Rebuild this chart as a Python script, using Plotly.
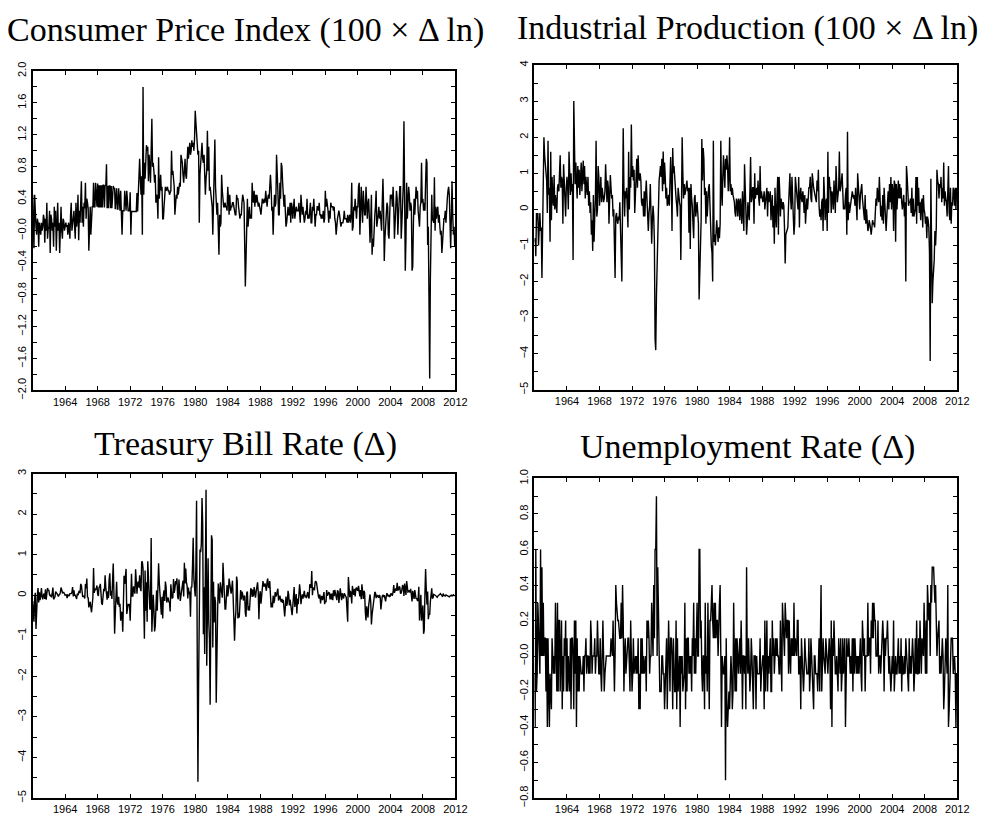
import pandas as pd
import plotly.graph_objects as go

# ---------------- data (monthly, 1960:01 - 2011:12) ----------------
cpi_change = [
 0.45, 0.12, -0.22, 0.45, 0.08, 0.05, -0.05, 0.15, 0.10, -0.20, 0.10, 0.05,
 -0.05, 0.10, 0.00, 0.05, 0.20, 0.15, -0.15, 0.15, 0.00, 0.35, -0.10, 0.02,
 0.05, 0.25, -0.28, 0.20, 0.15, 0.00, 0.10, -0.20, 0.30, 0.05, 0.25, -0.25,
 0.10, 0.35, 0.00, 0.10, -0.28, 0.25, 0.30, 0.00, -0.10, 0.15, 0.12, 0.00,
 0.05, 0.10, 0.05, 0.07, -0.05, 0.10, 0.05, -0.10, 0.20, 0.35, 0.00, 0.10,
 0.15, 0.25, 0.05, -0.10, 0.35, 0.05, 0.15, 0.45, -0.12, 0.25, 0.10, 0.30,
 0.62, 0.10, 0.30, 0.05, 0.35, 0.28, 0.60, 0.15, 0.40, 0.35, 0.28, -0.25,
 0.00, 0.30, -0.05, 0.30, 0.30, 0.30, 0.60, 0.30, 0.30, 0.60, 0.30, 0.30,
 0.59, 0.29, 0.57, 0.29, 0.57, 0.29, 0.57, 0.29, 0.57, 0.57, 0.29, 0.57,
 0.56, 0.83, 0.28, 0.56, 0.28, 0.56, 0.56, 0.28, 0.56, 0.28, 0.56, 0.56,
 0.53, 0.53, 0.27, 0.53, 0.53, 0.27, 0.27, 0.53, 0.27, 0.25, 0.50, 0.25,
 -0.05, 0.25, 0.25, 0.25, 0.50, 0.25, 0.25, 0.50, 0.25, 0.25, 0.25, 0.25,
 0.48, -0.05, 0.24, 0.24, 0.24, 0.24, 0.24, 0.24, 0.24, 0.24, 0.47, 0.24,
 0.47, 0.70, 0.90, 0.65, 0.45, 0.68, -0.05, 1.80, 0.45, 0.85, 0.65, 0.85,
 1.07, 1.00, 1.05, 0.62, 0.95, 0.80, 0.60, 1.00, 1.40, 0.80, 0.85, 0.75,
 0.60, 0.70, 0.35, 0.45, 0.40, 0.15, 0.92, 0.40, 0.50, 0.70, 0.50, 0.55,
 0.15, 0.15, 0.30, 0.45, 0.55, 0.50, 0.55, 0.55, 0.50, 0.50, 0.45, 0.50,
 0.50, 1.00, 0.70, 0.75, 0.60, 0.55, 0.20, 0.45, 0.45, 0.40, 0.55, 0.45,
 0.55, 0.60, 0.55, 0.95, 0.90, 0.85, 0.70, 0.60, 0.75, 0.90, 0.70, 0.65,
 0.85, 1.05, 0.90, 1.00, 1.10, 0.95, 1.00, 1.13, 1.05, 1.10, 1.00, 1.15,
 1.50, 1.35, 1.20, 1.00, 0.95, 1.00, 0.10, 0.70, 0.85, 1.00, 1.10, 0.90,
 0.85, 0.95, 0.60, 0.45, 0.65, 0.75, 1.25, 0.75, 1.05, 0.50, 0.55, 0.45,
 0.35, 0.30, -0.05, 0.30, 0.80, 1.14, 0.55, 0.25, 0.20, 0.35, 0.05, -0.30,
 0.20, 0.05, 0.10, 0.70, 0.50, 0.30, 0.30, 0.30, 0.35, 0.30, 0.30, 0.25,
 0.55, 0.40, 0.20, 0.45, 0.25, 0.30, 0.30, 0.35, 0.35, 0.30, 0.20, 0.20,
 0.20, 0.45, 0.40, 0.40, 0.30, 0.20, 0.15, 0.20, 0.20, 0.35, 0.45, 0.40,
 0.35, -0.20, -0.70, -0.35, 0.25, 0.40, 0.05, 0.20, 0.30, 0.15, 0.20, 0.15,
 0.60, 0.40, 0.35, 0.50, 0.30, 0.45, 0.35, 0.45, 0.40, 0.30, 0.35, 0.25,
 0.25, 0.20, 0.40, 0.40, 0.35, 0.35, 0.40, 0.35, 0.50, 0.35, 0.30, 0.40,
 0.45, 0.40, 0.50, 0.70, 0.55, 0.25, 0.30, -0.05, 0.25, 0.45, 0.30, 0.35,
 0.95, 0.50, 0.50, 0.20, 0.20, 0.60, 0.40, 0.85, 0.80, 0.60, 0.35, 0.30,
 0.45, 0.15, 0.05, 0.10, 0.30, 0.30, 0.20, 0.20, 0.35, 0.10, 0.35, 0.30,
 0.15, 0.35, 0.40, 0.15, 0.20, 0.30, 0.25, 0.25, 0.25, 0.35, 0.25, 0.10,
 0.45, 0.35, 0.20, 0.30, 0.15, 0.10, 0.15, 0.25, 0.20, 0.40, 0.15, 0.20,
 0.15, 0.30, 0.35, 0.10, 0.10, 0.30, 0.25, 0.40, 0.25, 0.05, 0.20, 0.20,
 0.30, 0.30, 0.25, 0.35, 0.20, 0.20, 0.15, 0.20, 0.15, 0.25, 0.10, 0.15,
 0.50, 0.30, 0.40, 0.35, 0.25, 0.10, 0.25, 0.15, 0.35, 0.30, 0.30, 0.30,
 0.25, 0.30, 0.15, 0.10, -0.05, 0.10, 0.15, 0.20, 0.25, 0.20, 0.05, 0.05,
 0.10, 0.10, 0.10, 0.15, 0.25, 0.15, 0.15, 0.15, 0.10, 0.20, 0.10, 0.15,
 0.20, 0.10, 0.20, 0.60, 0.00, 0.05, 0.30, 0.25, 0.40, 0.20, 0.15, 0.30,
 0.30, 0.55, 0.60, -0.05, 0.15, 0.55, 0.30, 0.10, 0.50, 0.20, 0.20, 0.20,
 0.55, 0.35, 0.15, 0.35, 0.40, 0.15, -0.15, 0.10, 0.45, -0.30, -0.10, -0.20,
 0.15, 0.20, 0.30, 0.50, 0.05, 0.10, 0.20, 0.30, 0.15, 0.25, 0.15, 0.00,
 0.35, 0.65, 0.30, -0.38, -0.10, 0.15, 0.20, 0.35, 0.30, -0.05, -0.10, 0.20,
 0.45, 0.40, 0.45, 0.30, 0.55, 0.30, -0.10, 0.10, 0.25, 0.50, 0.40, -0.05,
 0.20, 0.50, 0.55, 0.55, -0.10, 0.10, 0.45, 0.55, 1.37, 0.10, -0.50, -0.10,
 0.60, 0.15, 0.35, 0.55, 0.45, 0.25, 0.35, 0.30, -0.50, -0.45, 0.10, 0.40,
 0.20, 0.35, 0.55, 0.40, 0.50, 0.25, 0.15, 0.05, 0.30, 0.35, 0.85, 0.35,
 0.40, 0.25, 0.35, 0.25, 0.60, 0.90, 0.85, -0.18, 0.05, -1.00, -1.85, -0.60,
 0.30, 0.45, 0.15, 0.10, 0.10, 0.67, 0.00, 0.30, 0.15, 0.25, 0.30, 0.10,
 0.20, 0.05, -0.05, 0.00, -0.28, -0.15, 0.15, 0.15, 0.15, 0.25, 0.10, 0.35,
 0.40, 0.50, 0.55, 0.45, 0.20, -0.22, 0.15, 0.62, 0.20, -0.05, 0.05, -0.20,
]

ip_growth = [
 -0.9, -0.8, -1.3, -0.1, -0.3, -0.1, -1.0, -0.2, -0.1, -0.6, -0.5, -1.9,
 0.0, 0.3, 2.0, 1.5, 1.2, 1.0, 0.8, -0.1, 1.9, 0.4, 0.6, -0.9,
 1.6, -0.3, 0.9, 0.3, 0.1, 0.95, 0.0, 0.4, 0.2, -0.1, 0.6, 0.7,
 0.5, 0.9, 1.5, 0.6, 0.9, 0.8, -0.4, 1.25, 0.6, 0.0, -0.2, 0.6,
 0.9, 0.6, 0.0, 1.6, 0.6, 0.4, 1.0, 0.5, 0.7, -1.4, 3.0, 0.8,
 0.7, 1.3, 0.8, 0.3, 1.2, 0.6, 1.1, 0.4, 0.9, 1.3, 0.5, 1.0,
 1.35, 0.7, 1.2, 0.3, 0.9, 0.6, 0.4, 0.9, 0.1, 0.5, -0.1, 0.2,
 -0.7, -0.3, -1.15, 0.4, -0.9, -0.2, 0.3, 1.9, -0.2, 0.0, 1.2, 0.9,
 0.1, 0.5, 0.9, 0.2, 0.6, 0.4, 0.2, 0.3, 0.5, 1.25, 0.3, 0.2,
 0.8, 0.6, -0.4, 0.2, 0.95, 0.6, 0.3, 0.4, -0.2, 0.0, -0.9, -1.9,
 -0.2, -0.1, -0.3, -0.4, -0.2, -0.3, 0.2, -0.6, -0.8, -2.0, 0.1, 2.25,
 0.6, -0.2, 0.5, 0.3, 0.6, 0.2, -0.5, 1.6, 0.0, 0.9, 0.6, 2.35,
 0.9, 1.2, 0.8, 1.1, -0.1, 0.4, 1.3, 1.4, 0.6, 1.5, 0.9, 0.8,
 1.0, 0.8, 0.2, 0.1, 0.3, -0.2, 0.5, -0.2, 0.4, 0.8, 0.3, -0.3,
 -0.6, -0.1, 0.1, 0.7, 0.0, -0.95, -0.3, 0.1, -0.2, -0.9, -3.6, -3.9,
 -2.4, -1.4, -0.6, 0.1, 0.8, 1.0, 1.2, 0.9, 1.4, 0.5, 1.6, 0.7,
 1.3, 0.9, 0.3, 0.6, 0.1, 0.2, 0.4, 0.1, 0.6, 1.45, 0.8, -0.6,
 1.7, 1.0, 1.2, 0.8, 0.6, 0.3, 0.1, -0.2, 0.6, 0.3, 0.2, 0.1,
 -1.4, 0.2, 2.0, 1.0, 0.3, 0.7, 0.4, 0.5, 0.6, 0.8, 0.5, 0.6,
 -0.65, 0.6, -1.1, 0.7, 0.3, 0.1, -0.4, -0.8, 0.3, 0.4, -0.2, 0.1,
 0.2, -0.1, -0.4, -2.5, -1.9, -0.8, -0.3, 1.95, 0.8, 1.7, 1.4, 0.4,
 0.6, -0.4, 0.5, -0.2, 0.5, 0.6, 0.7, -0.1, -0.8, -1.0, -1.2, -2.0,
 1.9, -0.9, -0.7, -1.0, -0.5, -0.3, -0.6, -0.9, -0.5, -0.8, -0.4, 1.9,
 0.5, 0.1, 0.9, 1.5, 1.0, 0.6, 1.4, 1.1, 1.5, 1.2, 0.5, 0.9,
 2.0, 0.5, 0.7, 0.4, 0.6, 0.4, 0.3, 0.2, -0.1, -0.2, 0.3, 0.2,
 -0.2, 0.3, 0.2, -0.3, 0.3, -0.1, -0.4, 0.5, 0.1, -0.6, 1.25, 0.5,
 0.1, -0.7, -0.4, 0.2, -0.1, -0.3, 0.5, 1.45, 0.2, 0.3, 0.6, 0.6,
 -0.4, 1.0, 0.3, 0.5, 0.6, 0.4, 0.8, 0.3, 0.1, 1.2, 0.3, 0.5,
 0.3, 0.2, 0.3, 0.5, 0.0, 0.3, 0.4, 0.6, -0.2, 0.5, 0.2, 0.3,
 0.5, -0.3, 0.3, 0.4, -0.5, 0.1, -0.95, 0.6, -0.2, -0.5, 0.4, 0.9,
 -0.7, 0.9, 0.5, -0.2, 0.3, 0.2, 0.0, 0.2, 0.1, -0.5, -1.5, -0.7,
 -0.6, -0.6, -0.5, 0.1, 0.6, 1.0, 0.3, 0.0, 0.9, -0.2, -0.2, -0.7,
 -0.4, 0.9, 0.6, 0.6, 0.2, 0.0, 0.9, -0.5, 0.4, 0.6, 0.3, 0.2,
 0.5, 0.3, -0.1, 0.4, -0.4, 0.2, 0.3, 0.0, 0.6, 0.6, 0.6, 0.9,
 0.3, 0.2, 1.0, 0.6, 0.6, 0.5, 0.3, 0.3, 0.2, 0.8, 0.5, 1.1,
 0.1, -0.2, 0.0, -0.3, 0.2, 0.3, -0.6, 0.9, 0.4, -0.3, 0.2, 0.3,
 -0.6, 1.6, -0.1, 0.9, 0.6, 0.6, -0.1, 0.5, 0.4, 0.0, 0.8, 0.5,
 -0.1, 1.2, 0.6, 0.2, 0.4, 0.6, 1.6, 0.5, 0.6, 0.8, 1.0, 0.5,
 0.0, 0.1, 0.0, 0.4, 0.6, -0.7, 2.15, -0.3, 0.2, -0.1, 0.1, 0.3,
 0.3, 0.5, 0.4, 0.3, 0.4, 0.1, 0.6, 0.3, -0.3, 1.0, 0.5, 0.5,
 0.0, 0.4, 0.5, 0.7, 0.3, 0.1, -0.2, -0.3, 0.4, -0.4, 0.0, -0.3,
 -0.6, -0.5, -0.3, -0.4, -0.6, -0.7, -0.5, -0.3, -0.4, -0.4, -0.5, -0.2,
 0.3, 0.1, 0.6, 0.4, 0.2, 0.9, 0.0, -0.2, 0.1, -0.3, 0.4, -0.4,
 0.6, 0.1, -0.4, -0.6, -0.2, 0.1, 0.5, 0.0, 0.7, 0.2, 0.9, 0.0,
 0.7, 0.5, -0.6, 0.8, 0.7, -0.9, 0.7, 0.0, 0.3, 0.8, 0.3, 0.7,
 0.3, 0.6, 0.2, 0.0, 0.2, 0.4, -0.2, 0.2, -2.0, 1.2, 0.9, 0.4,
 0.1, 0.2, 0.2, 0.3, -0.1, 0.6, -0.2, 0.3, -0.2, -0.1, 0.0, 0.9,
 -0.4, 0.9, 0.1, 0.6, -0.1, 0.2, -0.3, 0.2, 0.3, -0.5, 0.4, 0.0,
 -0.1, -0.4, -0.2, -0.8, -0.2, -0.3, -0.5, -1.2, -4.2, 0.85, -1.2, -2.6,
 -2.0, -1.7, -1.4, -0.6, -1.0, -0.5, 1.1, 0.8, 0.7, 0.3, 0.7, 0.6,
 0.9, 0.2, 0.6, 0.3, 1.3, 0.1, 0.5, 0.3, 0.2, -0.2, 0.3, 1.2,
 -0.1, -0.3, 0.6, -0.4, 0.2, 0.1, 0.6, 0.5, 0.1, 0.6, 0.0, 0.6,
]

tbill_change = [
 -0.14, -0.39, -0.65, -0.08, 0.06, -0.83, -0.16, 0.00, 0.18, -0.18, 0.07, -0.12,
 -0.01, 0.18, -0.03, -0.10, 0.00, 0.04, -0.09, 0.15, -0.11, 0.02, 0.18, 0.12,
 0.12, 0.01, -0.01, 0.01, -0.05, 0.05, 0.19, -0.10, -0.04, -0.04, 0.09, 0.04,
 0.04, 0.01, -0.03, 0.01, 0.02, 0.07, 0.19, 0.14, 0.06, 0.07, 0.07, 0.00,
 0.00, 0.01, 0.01, -0.07, 0.01, 0.00, -0.02, 0.04, 0.03, 0.04, 0.07, 0.20,
 -0.03, 0.12, 0.00, 0.00, -0.04, -0.09, 0.04, 0.00, 0.08, 0.11, 0.05, 0.28,
 0.24, 0.07, -0.04, -0.02, -0.03, -0.08, 0.28, 0.17, 0.41, -0.04, -0.06, -0.30,
 -0.24, -0.16, -0.30, -0.42, -0.24, -0.06, 0.67, 0.06, 0.15, 0.14, 0.17, 0.24,
 0.03, -0.02, 0.19, 0.21, 0.28, -0.14, -0.21, -0.22, 0.10, 0.16, 0.10, 0.49,
 0.19, -0.01, -0.11, 0.10, -0.07, 0.40, 0.54, -0.01, 0.11, -0.09, 0.25, 0.78,
 0.05, -0.95, -0.50, -0.12, 0.33, -0.16, -0.23, -0.04, -0.29, -0.21, -0.63, -0.41,
 -0.43, -0.90, -0.32, 0.48, 0.28, 0.61, 0.65, -0.46, -0.25, -0.23, -0.24, -0.21,
 -0.63, -0.18, 0.53, -0.02, -0.02, 0.22, 0.07, 0.04, 0.64, 0.08, 0.04, 0.29,
 0.34, 0.19, 0.49, 0.17, 0.10, 0.83, 0.82, 0.66, -0.38, -1.07, 0.61, -0.38,
 0.32, -0.65, 0.84, 0.37, -0.10, -0.33, -0.35, 1.41, -0.90, -0.60, 0.01, -0.32,
 -0.89, -0.76, -0.01, 0.12, -0.38, 0.11, 0.79, 0.31, -0.02, -0.46, -0.48, -0.04,
 -0.57, 0.01, 0.12, -0.14, 0.34, 0.21, -0.18, -0.09, -0.06, -0.16, -0.17, -0.40,
 0.27, 0.05, -0.07, -0.06, 0.40, 0.06, 0.15, 0.35, 0.27, 0.42, -0.03, -0.10,
 0.39, 0.01, -0.14, -0.01, 0.12, 0.28, 0.36, -0.03, 0.80, 0.29, 0.66, 0.33,
 0.23, -0.08, 0.19, 0.03, 0.09, -0.53, 0.21, 0.19, 0.73, 1.42, 0.40, 0.20,
 -0.03, 0.77, 2.33, -1.53, -4.60, -2.15, 1.13, 1.13, 1.06, 1.26, 2.40, 1.77,
 -0.96, 0.20, -1.45, 0.15, 2.60, -1.74, 0.14, 0.91, -0.66, -1.08, -2.70, -0.34,
 1.48, 1.37, -1.29, 0.33, -0.67, -0.04, -0.20, -2.65, -0.81, -0.45, 0.29, -0.03,
 -0.20, 0.32, 0.17, -0.05, -0.06, 0.80, 0.30, 0.27, -0.34, -0.34, 0.00, 0.25,
 -0.03, 0.10, 0.41, 0.25, 0.21, 0.04, 0.19, 0.36, -0.08, -0.44, -1.12, -0.63,
 -0.40, 0.46, 0.35, -0.57, -0.44, -0.55, 0.04, 0.13, -0.10, 0.09, 0.03, -0.13,
 -0.03, -0.01, -0.44, -0.53, 0.06, 0.09, -0.37, -0.27, -0.38, -0.01, 0.17, 0.14,
 -0.04, 0.14, -0.03, 0.20, -0.01, -0.06, 0.09, 0.22, 0.32, 0.08, -0.59, -0.01,
 0.10, -0.21, 0.00, 0.23, 0.35, 0.23, 0.23, 0.29, 0.21, 0.11, 0.34, 0.41,
 0.20, 0.19, 0.35, -0.13, -0.30, -0.18, -0.30, -0.01, -0.19, -0.13, 0.08, -0.03,
 0.00, 0.10, 0.16, -0.13, -0.03, -0.01, -0.11, -0.17, -0.09, -0.19, -0.11, -0.32,
 -0.52, -0.28, -0.03, -0.26, -0.19, 0.11, 0.01, -0.25, -0.11, -0.23, -0.43, -0.49,
 -0.27, 0.04, 0.20, -0.29, -0.12, 0.03, -0.45, -0.08, -0.22, -0.05, 0.27, 0.09,
 -0.22, -0.07, 0.02, -0.08, 0.09, 0.11, -0.03, -0.02, -0.07, 0.07, 0.08, -0.04,
 -0.08, 0.27, 0.25, 0.18, 0.60, 0.00, 0.19, 0.15, 0.14, 0.33, 0.34, 0.31,
 0.11, 0.06, -0.04, -0.08, 0.02, -0.20, -0.05, -0.02, -0.12, 0.00, 0.08, -0.22,
 -0.14, -0.17, 0.13, -0.01, 0.07, 0.07, 0.06, -0.10, 0.04, -0.10, 0.04, -0.12,
 0.12, -0.02, 0.13, 0.02, -0.11, -0.12, 0.12, 0.09, -0.19, 0.02, 0.17, 0.02,
 -0.12, 0.05, -0.06, -0.08, 0.05, -0.02, -0.02, -0.06, -0.29, -0.65, 0.45, -0.02,
 -0.05, 0.11, 0.03, -0.20, 0.23, 0.08, 0.01, 0.16, -0.03, 0.15, 0.19, 0.13,
 0.12, 0.23, 0.14, -0.03, 0.13, -0.10, 0.27, 0.13, -0.09, 0.11, 0.06, -0.40,
 -0.62, -0.27, -0.46, -0.55, -0.25, -0.13, 0.02, -0.15, -0.72, -0.48, -0.29, -0.18,
 -0.04, 0.08, 0.06, -0.07, 0.01, -0.03, -0.02, -0.06, 0.01, -0.05, -0.35, -0.04,
 -0.02, 0.00, -0.04, 0.00, -0.06, -0.15, -0.02, 0.05, -0.01, -0.02, 0.01, -0.03,
 -0.02, 0.05, 0.01, 0.00, 0.08, 0.25, 0.06, 0.15, 0.17, 0.11, 0.31, 0.12,
 0.14, 0.21, 0.20, 0.04, 0.06, 0.13, 0.25, 0.22, -0.02, 0.29, 0.17, 0.01,
 0.35, 0.19, 0.08, 0.09, 0.12, 0.07, 0.16, 0.01, -0.15, 0.11, 0.02, -0.09,
 0.13, 0.05, -0.09, -0.07, -0.14, -0.12, 0.21, -0.62, -0.31, 0.01, -0.63, -0.27,
 -0.25, -0.95, -0.86, 0.03, 0.65, 0.13, -0.23, 0.09, -0.59, -0.46, -0.48, -0.16,
 0.10, 0.17, -0.08, -0.06, 0.02, 0.00, 0.00, -0.01, -0.05, -0.05, -0.02, 0.00,
 0.01, 0.05, 0.04, 0.01, 0.00, -0.04, 0.04, 0.00, -0.01, -0.02, 0.01, 0.00,
 0.01, -0.02, -0.03, -0.04, -0.02, 0.00, 0.00, -0.02, -0.01, 0.01, -0.01, 0.00,
]

unemp_change = [
 -0.1, -0.4, 0.6, -0.2, -0.1, 0.3, 0.1, 0.1, -0.1, 0.6, 0.0, 0.5,
 0.0, 0.3, 0.0, 0.1, 0.1, -0.2, 0.1, -0.4, 0.1, -0.2, -0.4, -0.1,
 -0.2, -0.3, 0.1, 0.0, -0.1, 0.0, -0.1, 0.3, -0.1, -0.2, 0.3, -0.2,
 0.2, 0.2, -0.2, 0.0, 0.2, -0.3, 0.0, -0.2, 0.1, 0.0, 0.2, -0.2,
 0.1, -0.2, 0.0, -0.1, -0.2, 0.1, -0.3, 0.1, 0.1, 0.0, -0.3, 0.2,
 -0.1, 0.2, -0.4, 0.1, -0.2, 0.0, -0.2, 0.0, -0.1, -0.1, -0.1, -0.1,
 0.0, -0.2, 0.0, 0.0, 0.1, -0.1, 0.0, 0.0, -0.1, 0.0, -0.1, 0.2,
 0.1, -0.1, 0.0, 0.0, 0.0, 0.1, -0.1, 0.0, 0.0, 0.2, -0.1, -0.1,
 -0.1, 0.1, -0.1, -0.2, 0.0, 0.2, 0.0, -0.2, -0.1, 0.0, 0.0, 0.0,
 0.0, 0.0, 0.0, 0.0, 0.0, 0.1, 0.0, 0.0, 0.2, 0.0, -0.2, 0.0,
 0.4, 0.3, 0.2, 0.2, 0.2, 0.1, 0.1, 0.1, 0.3, 0.1, 0.4, 0.2,
 -0.2, 0.0, 0.1, -0.1, 0.0, 0.0, 0.1, 0.1, -0.1, -0.2, 0.2, 0.0,
 -0.2, -0.1, 0.1, -0.1, 0.0, 0.0, -0.1, 0.0, -0.1, 0.1, -0.3, -0.1,
 -0.3, 0.1, -0.1, 0.1, -0.1, 0.0, -0.1, 0.0, 0.0, -0.2, 0.2, 0.1,
 0.2, 0.1, -0.1, 0.0, 0.0, 0.3, 0.1, 0.0, 0.4, 0.1, 0.6, 0.6,
 0.9, 0.0, 0.5, 0.2, 0.2, -0.2, -0.2, -0.2, 0.0, 0.0, -0.1, -0.1,
 -0.3, -0.2, -0.1, 0.1, -0.3, 0.2, 0.2, 0.0, -0.2, 0.1, 0.1, 0.0,
 -0.3, 0.1, -0.2, -0.2, -0.2, 0.2, -0.3, 0.1, -0.2, 0.0, 0.0, -0.4,
 0.0, -0.1, 0.0, -0.2, -0.1, -0.1, 0.3, -0.3, 0.1, -0.2, 0.1, 0.1,
 -0.1, 0.0, -0.1, 0.0, -0.2, 0.1, 0.0, 0.3, -0.1, 0.1, -0.1, 0.1,
 0.3, 0.0, 0.0, 0.6, 0.6, 0.1, 0.2, -0.1, -0.2, 0.0, 0.0, -0.3,
 0.3, -0.1, 0.0, -0.2, 0.3, 0.0, -0.3, 0.2, 0.2, 0.3, 0.4, 0.2,
 0.1, 0.3, 0.1, 0.3, 0.1, 0.2, 0.2, 0.0, 0.3, 0.3, 0.4, 0.0,
 -0.4, 0.0, -0.1, -0.1, -0.1, 0.0, -0.7, 0.1, -0.3, -0.4, -0.3, -0.2,
 -0.3, -0.2, 0.0, -0.1, -0.3, -0.2, 0.3, 0.0, -0.2, 0.1, -0.2, 0.1,
 0.0, -0.1, 0.0, 0.1, -0.1, 0.2, 0.0, -0.3, 0.0, 0.0, -0.1, 0.0,
 -0.3, 0.5, 0.0, -0.1, 0.1, 0.0, -0.2, -0.1, 0.1, 0.0, -0.1, -0.3,
 0.0, 0.0, 0.0, -0.3, 0.0, -0.1, -0.1, -0.1, -0.1, 0.1, -0.2, -0.1,
 0.0, 0.0, 0.0, -0.3, 0.2, -0.2, 0.0, 0.2, -0.2, 0.0, -0.1, 0.0,
 0.1, -0.2, -0.2, 0.2, 0.0, 0.1, -0.1, 0.0, 0.1, 0.0, 0.1, 0.0,
 0.0, -0.1, -0.1, 0.2, 0.0, -0.2, 0.3, 0.2, 0.2, 0.0, 0.3, 0.1,
 0.1, 0.2, 0.2, -0.1, 0.2, 0.0, -0.1, 0.1, 0.0, 0.1, 0.0, 0.3,
 0.0, 0.1, 0.0, 0.0, 0.2, 0.2, -0.1, -0.1, 0.0, -0.3, 0.1, 0.0,
 -0.1, -0.2, -0.1, 0.1, 0.0, -0.1, -0.1, -0.1, -0.1, 0.1, -0.2, -0.1,
 0.1, 0.0, -0.1, -0.1, -0.3, 0.0, 0.0, -0.1, -0.1, -0.1, -0.2, -0.1,
 0.1, -0.2, 0.0, 0.4, -0.2, 0.0, 0.1, 0.0, -0.1, -0.1, 0.1, 0.0,
 0.0, -0.1, 0.0, 0.1, 0.0, -0.3, 0.2, -0.4, 0.1, 0.0, 0.2, 0.0,
 -0.1, -0.1, 0.0, -0.1, -0.2, 0.1, -0.1, -0.1, 0.1, -0.2, -0.1, 0.1,
 -0.1, 0.0, 0.1, -0.4, 0.1, 0.1, 0.0, 0.0, 0.1, -0.1, -0.1, 0.0,
 -0.1, 0.1, -0.2, 0.1, -0.1, 0.1, 0.0, -0.1, 0.0, -0.1, 0.0, -0.1,
 0.0, 0.1, -0.1, -0.2, 0.2, 0.0, 0.0, 0.1, -0.2, 0.0, 0.0, 0.0,
 0.3, 0.0, 0.1, 0.1, -0.1, 0.2, 0.1, 0.3, 0.1, 0.3, 0.2, 0.2,
 0.0, 0.0, 0.0, 0.2, -0.1, 0.0, 0.0, -0.1, 0.0, 0.0, 0.2, 0.1,
 -0.2, 0.1, 0.0, 0.1, 0.1, 0.2, -0.1, -0.1, 0.0, -0.1, -0.2, -0.1,
 0.0, -0.1, 0.2, -0.2, 0.0, 0.0, -0.1, -0.1, 0.0, 0.1, -0.1, 0.0,
 -0.1, 0.1, -0.2, 0.0, -0.1, -0.1, 0.0, -0.1, 0.1, 0.0, 0.0, -0.1,
 -0.2, 0.1, -0.1, 0.0, -0.1, 0.0, 0.1, 0.0, -0.2, -0.1, 0.1, -0.1,
 0.2, -0.1, -0.1, 0.1, -0.1, 0.2, 0.1, -0.1, 0.1, 0.0, 0.0, 0.3,
 0.0, -0.1, 0.2, -0.1, 0.4, 0.2, 0.2, 0.3, 0.0, 0.4, 0.3, 0.5,
 0.5, 0.5, 0.4, 0.3, 0.4, 0.1, 0.0, 0.1, 0.2, 0.2, -0.1, 0.0,
 -0.1, 0.0, 0.1, 0.0, -0.3, -0.2, 0.0, 0.1, 0.0, -0.1, 0.4, -0.4,
 -0.3, -0.1, -0.1, 0.1, 0.1, 0.1, -0.1, 0.0, 0.0, -0.1, -0.4, -0.1,
]

titles = ["Consumer Price Index (100 \u00d7 \u0394 ln)",
          "Industrial Production (100 \u00d7 \u0394 ln)",
          "Treasury Bill Rate (\u0394)",
          "Unemployment Rate (\u0394)"]

year_ticks = [1964, 1968, 1972, 1976, 1980, 1984, 1988, 1992, 1996, 2000, 2004, 2008, 2012]

cpi_ticks = [-2.0, -1.6, -1.2, -0.8, -0.4, 0.0, 0.4, 0.8, 1.2, 1.6, 2.0]
cpi_ticktext = ["\u22122.0", "\u22121.6", "\u22121.2", "\u22120.8", "\u22120.4", "\u22120.0",
                "0.4", "0.8", "1.2", "1.6", "2.0"]
ip_ticks = [-5, -4, -3, -2, -1, 0, 1, 2, 3, 4]
tb_ticks = [-5, -4, -3, -2, -1, 0, 1, 2, 3]
ur_ticks = [-0.8, -0.6, -0.4, -0.2, 0.0, 0.2, 0.4, 0.6, 0.8, 1.0]
ur_ticktext = ["\u22120.8", "\u22120.6", "\u22120.4", "\u22120.2", "\u22120.0",
               "0.2", "0.4", "0.6", "0.8", "1.0"]


def int_text(vals):
    return [("\u2212" + str(abs(v))) if v < 0 else str(v) for v in vals]


months = pd.date_range("1960-01-01", periods=len(cpi_change), freq="MS")

# ---------------- figure ----------------
W, H = 993, 822
panels = [
    # (series, xpx, ypx, yrange, tickvals, ticktext, minor dtick)
    (cpi_change, (33, 461), (63.3, 390), [-2.0, 2.0], cpi_ticks, cpi_ticktext, 0.2),
    (ip_growth, (541, 969), (57.3, 389.3), [-5, 4], ip_ticks, int_text(ip_ticks), 0.5),
    (tbill_change, (33, 461), (475, 806.7), [-5, 3], tb_ticks, int_text(tb_ticks), 0.5),
    (unemp_change, (541, 969), (480, 806.7), [-0.8, 1.0], ur_ticks, ur_ticktext, 0.1),
]
title_pos = [(248, 21), (757, 19), (249, 445), (757, 448)]

fig = go.Figure()
tickfont = dict(family="Liberation Sans, Arial, sans-serif", size=11, color="black")
layout = dict(width=W, height=H, margin=dict(l=0, r=0, t=0, b=0),
              paper_bgcolor="white", plot_bgcolor="white", showlegend=False)
annotations = []

for i, (series, xp, yp, yr, tv, tt, mdt) in enumerate(panels):
    n = "" if i == 0 else str(i + 1)
    fig.add_trace(go.Scatter(x=months, y=series, mode="lines",
                             line=dict(color="black", width=1.4),
                             xaxis="x" + n, yaxis="y" + n, hoverinfo="skip"))
    layout["xaxis" + n] = dict(
        domain=[xp[0] / W, xp[1] / W], anchor="y" + n, type="date",
        range=["1960-01-01", "2012-01-01"],
        tickmode="array", tickvals=[f"{y}-01-01" for y in year_ticks],
        ticktext=[str(y) for y in year_ticks],
        ticks="inside", ticklen=4, tickwidth=1, tickcolor="black",
        showline=True, linecolor="black", linewidth=2, mirror="ticks",
        showgrid=False, zeroline=False, tickfont=tickfont, tickangle=0)
    layout["yaxis" + n] = dict(
        domain=[1 - yp[1] / H, 1 - yp[0] / H], anchor="x" + n,
        range=yr, tickmode="array", tickvals=tv, ticktext=tt, tickangle=-90,
        ticks="inside", ticklen=4, tickwidth=1, tickcolor="black",
        minor=dict(ticks="inside", ticklen=4, tickwidth=1, tickcolor="black",
                   dtick=mdt, tick0=0, showgrid=False),
        showline=True, linecolor="black", linewidth=2, mirror="ticks",
        showgrid=False, zeroline=False, tickfont=tickfont)
    annotations.append(dict(text=titles[i], x=title_pos[i][0] / W, y=1 - title_pos[i][1] / H,
                            xref="paper", yref="paper", xanchor="center", yanchor="middle",
                            showarrow=False,
                            font=dict(family="Liberation Serif, Times New Roman, serif",
                                      size=34, color="black")))

layout["annotations"] = annotations
fig.update_layout(**layout)
fig.write_html("out.html")
